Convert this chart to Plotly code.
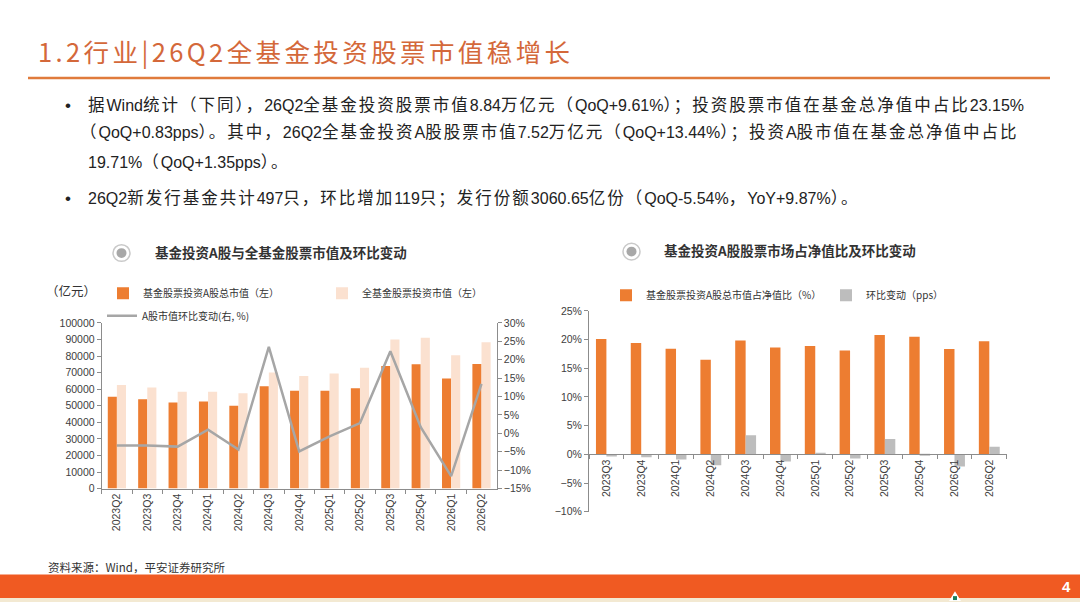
import re
import plotly.graph_objects as go

W, H = 1080, 608

# ---------------- data ----------------
quarters_left = ["2023Q2", "2023Q3", "2023Q4", "2024Q1", "2024Q2", "2024Q3", "2024Q4",
                 "2025Q1", "2025Q2", "2025Q3", "2025Q4", "2026Q1", "2026Q2"]
a_share_mv = [55500, 54000, 52000, 52500, 50000, 61800, 59000, 59000, 60500, 74000, 75000, 66500, 75200]
all_stock_mv = [62500, 61000, 58500, 58500, 57500, 70000, 68000, 69500, 73000, 90000, 91000, 80500, 88400]
a_share_qoq = [-3.3, -3.3, -3.6, 1.0, -4.4, 23.5, -4.9, -0.8, 2.8, 22.3, 1.7, -11.6, 13.44]

quarters_right = ["2023Q3", "2023Q4", "2024Q1", "2024Q2", "2024Q3", "2024Q4",
                  "2025Q1", "2025Q2", "2025Q3", "2025Q4", "2026Q1", "2026Q2"]
a_share_ratio = [20.1, 19.4, 18.4, 16.5, 19.85, 18.6, 18.9, 18.1, 20.8, 20.5, 18.36, 19.71]
ratio_change = [-0.35, -0.5, -0.9, -1.9, 3.35, -1.25, 0.3, -0.7, 2.7, -0.2, -2.1, 1.35]

left_y_ticks = list(range(0, 100001, 10000))
left_y2_range = [-15, 30]
right_y_range = [-10, 25]

# ---------------- styling ----------------
ORANGE = "#ED7D31"
LIGHT = "#FBE1D0"
GREY_LINE = "#A6A6A6"
GREY_BAR = "#BDBDBD"
AXIS = "#8C8C8C"
TXT = "#333333"
LAT = "Liberation Sans, Arial, Noto Sans CJK SC, sans-serif"
CJK = "Noto Sans CJK SC, Liberation Sans, sans-serif"


def px(x):
    return x / W


def py(y):
    return 1 - y / H


fig = go.Figure()

fig.add_trace(go.Bar(x=quarters_left, y=a_share_mv, name="基金股票投资A股总市值（左）",
                     marker=dict(color=ORANGE, line=dict(width=0)), xaxis="x", yaxis="y",
                     legend="legend"))
fig.add_trace(go.Bar(x=quarters_left, y=all_stock_mv, name="全基金股票投资市值（左）",
                     marker=dict(color=LIGHT, line=dict(width=0)), xaxis="x", yaxis="y",
                     legend="legend2"))
fig.add_trace(go.Scatter(x=quarters_left, y=a_share_qoq, name="A股市值环比变动(右, %)",
                         mode="lines", line=dict(color=GREY_LINE, width=2.5),
                         xaxis="x", yaxis="y2", legend="legend3"))

fig.add_trace(go.Bar(x=quarters_right, y=a_share_ratio, name="基金股票投资A股总市值占净值比（%）",
                     marker=dict(color=ORANGE, line=dict(width=0)), xaxis="x3", yaxis="y3",
                     legend="legend4"))
fig.add_trace(go.Bar(x=quarters_right, y=ratio_change, name="环比变动（pps）",
                     marker=dict(color=GREY_BAR, line=dict(width=0)), xaxis="x3", yaxis="y3",
                     legend="legend5"))
for tr in fig.data:
    tr.showlegend = True

# domains
lx = [px(101.7), px(496.7)]
ly = [py(492.3), py(323.3)]
rx = [px(589), px(1006.7)]
ry = [py(516), py(311)]
zero_pos = ry[0] + (0 - right_y_range[0]) / (right_y_range[1] - right_y_range[0]) * (ry[1] - ry[0])

tickfont = dict(family=LAT, size=10.5, color="#404040")
common_axis = dict(showline=True, linecolor=AXIS, linewidth=1, ticks="outside", ticklen=4,
                   tickcolor=AXIS, showgrid=False, zeroline=False, tickfont=tickfont)

fig.update_layout(
    width=W, height=H,
    margin=dict(l=0, r=0, t=0, b=0),
    paper_bgcolor="white", plot_bgcolor="rgba(0,0,0,0)",
    showlegend=True,
    barmode="group", bargap=0.4, bargroupgap=0,
    xaxis=dict(domain=lx, anchor="y", type="category", tickson="boundaries",
               tickangle=-90, **common_axis),
    yaxis=dict(domain=ly, anchor="x", range=[0, 100000], tickvals=left_y_ticks,
               tickformat="d", **common_axis),
    yaxis2=dict(overlaying="y", side="right", anchor="x", range=left_y2_range, dtick=5,
                ticksuffix="%", **common_axis),
    xaxis3=dict(domain=rx, anchor="free", position=zero_pos, type="category",
                tickson="boundaries", tickangle=-90, **common_axis),
    yaxis3=dict(domain=ry, anchor="x3", range=right_y_range, dtick=5, ticksuffix="%",
                **common_axis),
)

legfont = dict(family=CJK, size=10, color=TXT)
legbase = dict(orientation="h", xanchor="left", yanchor="middle", bgcolor="rgba(0,0,0,0)",
               font=legfont, borderwidth=0, itemclick=False, itemdoubleclick=False,
               visible=True)
fig.update_layout(
    legend=dict(x=px(103), y=py(293), **legbase),
    legend2=dict(x=px(322), y=py(293), **legbase),
    legend3=dict(x=px(102), y=py(316), **legbase),
    legend4=dict(x=px(606), y=py(295), **legbase),
    legend5=dict(x=px(826), y=py(295), **legbase),
)

shapes = []
# header rule
shapes.append(dict(type="line", xref="paper", yref="paper", x0=px(28), x1=px(1050),
                   y0=py(73.5), y1=py(73.5), line=dict(color="#E07B3C", width=2.5)))
# footer band
shapes.append(dict(type="rect", xref="paper", yref="paper", x0=0, x1=1, y0=py(604), y1=py(580),
                   line=dict(width=0), fillcolor="#F05A22"))
shapes.append(dict(type="rect", xref="paper", yref="paper", x0=0, x1=1, y0=py(608), y1=py(604),
                   line=dict(width=0), fillcolor="#F3E9D2"))
# logo
shapes.append(dict(type="path", xref="paper", yref="paper",
                   path=f"M {px(949)} {py(607)} L {px(955)} {py(597)} L {px(961)} {py(607)} Z",
                   fillcolor="white", line=dict(width=0)))
shapes.append(dict(type="rect", xref="paper", yref="paper", x0=px(953), x1=px(957),
                   y0=py(606), y1=py(602), fillcolor="#1E7F5C", line=dict(width=0)))
# chart-title icons
for cx, cy in [(121.5, 252), (631.5, 250.5)]:
    shapes.append(dict(type="circle", xref="paper", yref="paper",
                       x0=px(cx - 8.5), x1=px(cx + 8.5), y0=py(cy + 8.5), y1=py(cy - 8.5),
                       fillcolor="white", line=dict(color="#C9C9C9", width=1.5)))
    shapes.append(dict(type="circle", xref="paper", yref="paper",
                       x0=px(cx - 5), x1=px(cx + 5), y0=py(cy + 5), y1=py(cy - 5),
                       fillcolor="#A8A8A8", line=dict(width=0)))
fig.update_layout(shapes=shapes)


def mixed(text, cjk_size=16.5, cjk_spacing=2, lat_size=16):
    """Wrap CJK runs and Latin runs in spans with their own size / spacing."""
    out = []
    for run in re.findall(r"[\x00-\x7f]+|[^\x00-\x7f]+", text):
        if ord(run[0]) < 128:
            out.append(f'<span style="font-size:{lat_size}px">{run}</span>')
        else:
            out.append(f'<span style="font-size:{cjk_size}px;letter-spacing:{cjk_spacing}px">{run}</span>')
    return "".join(out)


def ann(text, x, y, size, color=TXT, family=LAT, xanchor="left", weight=None):
    f = dict(family=family, size=size, color=color)
    if weight:
        f["weight"] = weight
    return dict(text=text, x=px(x), y=py(y), xref="paper", yref="paper", showarrow=False,
                xanchor=xanchor, yanchor="middle", font=f)


body = 17
title_text = '<span style="letter-spacing:3.4px">1.2行业|26Q2全基金投资股票市值稳增长</span>'
annotations = [
    ann(title_text, 36, 45, 25.5, color="#D4683A", family=CJK),
    ann("•", 63, 101, body, color="#222"),
    ann(mixed("据Wind统计（下同），26Q2全基金投资股票市值8.84万亿元（QoQ+9.61%）；投资股票市值在基金总净值中占比23.15%"),
        86, 101, body, color="#222"),
    ann(mixed("（QoQ+0.83pps）。其中，26Q2全基金投资A股股票市值7.52万亿元（QoQ+13.44%）；投资A股市值在基金总净值中占比"),
        78, 129, body, color="#222"),
    ann(mixed("19.71%（QoQ+1.35pps）。"), 86, 159, body, color="#222"),
    ann("•", 63, 196, body, color="#222"),
    ann(mixed("26Q2新发行基金共计497只，环比增加119只；发行份额3060.65亿份（QoQ-5.54%，YoY+9.87%）。"),
        86, 196, body, color="#222"),
    ann("基金投资A股与全基金股票市值及环比变动", 153, 251, 13.5, family=CJK, weight=700),
    ann("基金投资A股股票市场占净值比及环比变动", 662, 249, 13.5, family=CJK, weight=700),
    ann("（亿元）", 44, 290, 12.5, family=CJK),
    ann("资料来源：Wind，平安证券研究所", 46, 572, 11.5, family=CJK),
    ann("4", 1073, 592, 15, color="white", xanchor="right", weight=700),
]
fig.update_layout(annotations=annotations)

fig.write_html("out.html", config={"displayModeBar": False},
               post_script="document.body.style.margin='0';document.body.style.overflow='hidden';")
